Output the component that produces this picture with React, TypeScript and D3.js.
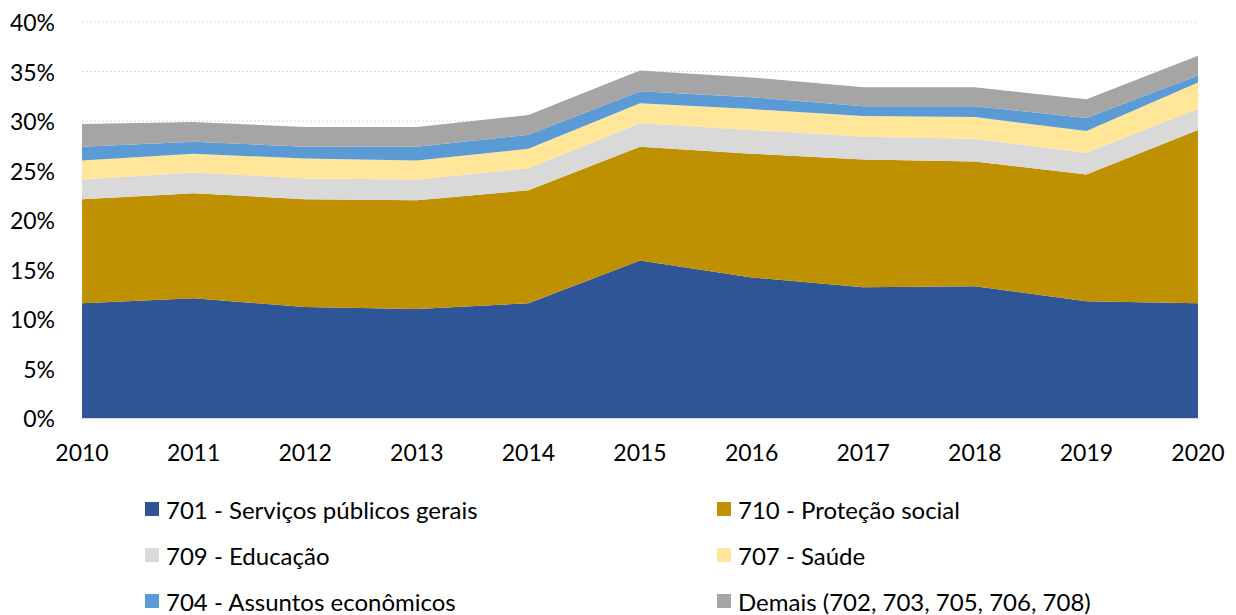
import React from 'react'
import * as d3 from 'd3'

const years = [2010, 2011, 2012, 2013, 2014, 2015, 2016, 2017, 2018, 2019, 2020]

// shares of GDP (%) per function, stacked bottom to top
const servicosPublicos = [11.6, 12.1, 11.2, 11.0, 11.6, 15.9, 14.2, 13.2, 13.3, 11.8, 11.6]
const protecaoSocial = [10.5, 10.6, 10.9, 11.0, 11.4, 11.5, 12.5, 12.9, 12.6, 12.8, 17.5]
const educacao = [2.0, 2.1, 2.1, 2.1, 2.2, 2.4, 2.4, 2.3, 2.3, 2.2, 2.1]
const saude = [1.9, 1.9, 2.0, 1.9, 2.0, 2.0, 2.1, 2.1, 2.2, 2.2, 2.7]
const assuntosEconomicos = [1.4, 1.2, 1.2, 1.4, 1.4, 1.2, 1.2, 1.0, 1.1, 1.3, 0.7]
const demais = [2.3, 2.0, 2.0, 2.0, 2.0, 2.1, 2.0, 1.9, 1.9, 1.9, 2.0]

const yTicks = [0, 5, 10, 15, 20, 25, 30, 35, 40]

const series = [
  { key: 's701', label: '701 - Serviços públicos gerais', values: servicosPublicos, color: '#2F5597' },
  { key: 's710', label: '710 - Proteção social', values: protecaoSocial, color: '#BF9000' },
  { key: 's709', label: '709 - Educação', values: educacao, color: '#D9D9D9' },
  { key: 's707', label: '707 - Saúde', values: saude, color: '#FFE699' },
  { key: 's704', label: '704 - Assuntos econômicos', values: assuntosEconomicos, color: '#5B9BD5' },
  { key: 'sDem', label: 'Demais (702, 703, 705, 706, 708)', values: demais, color: '#A5A5A5' },
]

const W = 1236
const H = 615
const font = 'Lato, "Open Sans", sans-serif'
const fs = 23
const legendFs = 24

export default function App() {
  const x = d3.scaleLinear().domain([2010, 2020]).range([82, 1198])
  const y = d3.scaleLinear().domain([0, 40]).range([418, 22])

  const table = years.map((yr, i) => {
    const row: any = { year: yr }
    series.forEach(s => { row[s.key] = s.values[i] })
    return row
  })
  const stacked = d3.stack<any>().keys(series.map(s => s.key))(table)
  const area = d3.area<any>()
    .x(d => x(d.data.year))
    .y0(d => y(d[0]))
    .y1(d => y(d[1]))

  const legendRows = [509, 555, 601]
  const legendCols = [145, 717]

  return (
    <svg width={W} height={H} style={{ position: 'absolute', left: 0, top: 0, background: '#fff' }}>
      {yTicks.map(t => (
        <line key={'g' + t} x1={82} x2={1198} y1={y(t)} y2={y(t)}
          stroke="#D9D9D9" strokeWidth={1} strokeDasharray="2,2" />
      ))}
      {stacked.map((layer, i) => (
        <path key={layer.key} d={area(layer) || ''} fill={series[i].color} />
      ))}
      <line x1={82} x2={1198} y1={418.5} y2={418.5} stroke="#D9D9D9" />
      {yTicks.map(t => (
        <text key={'y' + t} x={55} y={y(t)} textAnchor="end" dominantBaseline="central"
          fontFamily={font} fontSize={fs} fill="#000">{t}%</text>
      ))}
      {years.map(yr => (
        <text key={'x' + yr} x={x(yr)} y={452} textAnchor="middle" dominantBaseline="central"
          fontFamily={font} fontSize={fs} fill="#000">{yr}</text>
      ))}
      {series.map((s, i) => {
        const lx = legendCols[i % 2]
        const ly = legendRows[Math.floor(i / 2)]
        return (
          <g key={'l' + s.key}>
            <rect x={lx} y={ly - 7} width={14} height={14} fill={s.color} />
            <text x={lx + 21} y={ly} dominantBaseline="central" fontFamily={font} fontSize={legendFs} fill="#000">
              {s.label}
            </text>
          </g>
        )
      })}
    </svg>
  )
}
